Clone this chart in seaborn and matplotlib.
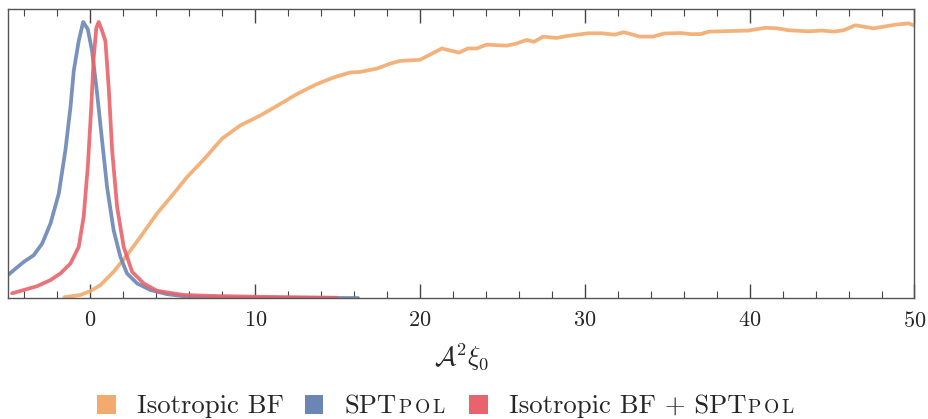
import numpy as np
import pandas as pd
import matplotlib
matplotlib.use("Agg")
import matplotlib.pyplot as plt
from matplotlib.patches import Rectangle
from matplotlib.ticker import MultipleLocator
import seaborn as sns

# ---- data (normalised posterior) ----
iso_x = [-1.58, -0.61, 0.0, 0.61, 1.41, 2.22, 3.03, 4.04, 5.05, 5.86, 6.87, 7.98, 9.09, 10.30,
         11.52, 12.53, 13.74, 14.75, 15.76, 16.36, 17.38, 18.18, 18.79, 20.0, 21.32, 22.36,
         22.91, 23.44, 24.04, 25.25, 25.86, 26.47, 26.91, 27.47, 28.28, 28.89, 30.2, 31.01,
         31.82, 32.36, 33.33, 34.14, 34.79, 35.8, 36.41, 37.01, 37.52, 39.94, 40.95, 41.65,
         42.36, 43.58, 44.38, 45.09, 45.70, 46.41, 47.52, 48.83, 49.64, 50.0]
iso_y = [0.003, 0.011, 0.025, 0.047, 0.095, 0.155, 0.221, 0.306, 0.378, 0.438, 0.501, 0.577,
         0.625, 0.661, 0.703, 0.739, 0.775, 0.799, 0.817, 0.819, 0.831, 0.849, 0.859, 0.863,
         0.904, 0.889, 0.904, 0.904, 0.918, 0.914, 0.922, 0.935, 0.928, 0.947, 0.942, 0.949,
         0.959, 0.959, 0.954, 0.963, 0.947, 0.947, 0.958, 0.960, 0.956, 0.956, 0.965, 0.969,
         0.979, 0.977, 0.970, 0.966, 0.969, 0.965, 0.970, 0.988, 0.977, 0.990, 0.995, 0.987]

spt_x = [-5.0, -4.65, -4.04, -3.44, -2.93, -2.42, -1.92, -1.52, -1.21, -1.01, -0.71, -0.44,
         -0.16, 0.10, 0.41, 0.71, 1.01, 1.41, 1.82, 2.22, 2.83, 3.64, 4.65, 5.86, 8.67, 16.24]
spt_y = [0.083, 0.101, 0.131, 0.155, 0.197, 0.270, 0.378, 0.534, 0.691, 0.823, 0.931, 1.0,
         0.974, 0.895, 0.739, 0.570, 0.402, 0.245, 0.149, 0.089, 0.053, 0.029, 0.014, 0.005,
         0.001, 0.0]

comb_x = [-4.75, -4.04, -3.23, -2.42, -1.82, -1.21, -0.71, -0.41, -0.16, 0.04, 0.2, 0.36,
          0.50, 0.71, 0.91, 1.11, 1.32, 1.62, 2.02, 2.53, 3.23, 4.04, 5.65, 7.68, 10.71, 14.95]
comb_y = [0.017, 0.029, 0.043, 0.065, 0.089, 0.125, 0.185, 0.294, 0.474, 0.679, 0.871, 0.979,
          1.0, 0.968, 0.931, 0.763, 0.534, 0.330, 0.185, 0.095, 0.053, 0.026, 0.011, 0.007,
          0.004, 0.001]

series = ["Isotropic BF", "SPTpol", "Isotropic BF + SPTpol"]
# legend text: main part + small-caps suffix
legend_main = ["Isotropic BF", "SPT", "Isotropic BF + SPT"]
legend_sc = ["", r"$\mathrm{P\,O\,L}$", r"$\mathrm{P\,O\,L}$"]
colors = ["#F2AA6E", "#6B86B5", "#E8636B"]

df = pd.concat([
    pd.DataFrame({"x": iso_x, "y": iso_y, "s": series[0]}),
    pd.DataFrame({"x": spt_x, "y": spt_y, "s": series[1]}),
    pd.DataFrame({"x": comb_x, "y": comb_y, "s": series[2]}),
], ignore_index=True)

sns.set_style("ticks")
plt.rcParams["font.family"] = ["cmr10", "DejaVu Serif"]
plt.rcParams["mathtext.fontset"] = "cm"
plt.rcParams["axes.formatter.use_mathtext"] = True
plt.rcParams["axes.unicode_minus"] = False

W, H = 929, 419
fig = plt.figure(figsize=(W / 100, H / 100), dpi=100)
ax = fig.add_axes([8 / W, 1 - 298 / H, (914.5 - 8) / W, (298 - 9) / H])

sns.lineplot(data=df, x="x", y="y", hue="s", palette=dict(zip(series, colors)),
             estimator=None, sort=True, linewidth=2.7, alpha=0.9, ax=ax, legend=False)
for ln in ax.get_lines():
    ln.set_solid_joinstyle("round")
    ln.set_solid_capstyle("round")

ax.set_xlim(-5, 50)
ax.set_ylim(0, 1.047)
ax.xaxis.set_major_locator(MultipleLocator(10))
ax.xaxis.set_minor_locator(MultipleLocator(2))
ax.set_yticks([])
ax.tick_params(axis="x", which="both", direction="in", top=True, bottom=True,
               color="#444444", labelsize=16, pad=9)
ax.tick_params(axis="x", which="major", length=10, width=1.0)
ax.tick_params(axis="x", which="minor", length=5, width=0.8)
for sp in ax.spines.values():
    sp.set_visible(True)
    sp.set_color("#555555")
    sp.set_linewidth(1.0)

ax.set_xlabel(r"$\mathcal{A}^2\xi_0$", fontsize=19, labelpad=8)
ax.set_ylabel("")

# ---- legend (square patches + text, small caps suffix) ----
sq_x = [97.3, 305.0, 469.3]
tx_x = [137.3, 345.0, 509.0]
sq = 18.4
base_y = (H - 413.3) / H
fig.canvas.draw()
renderer = fig.canvas.get_renderer()
for c, m, s, x0, t0 in zip(colors, legend_main, legend_sc, sq_x, tx_x):
    fig.patches.append(Rectangle((x0 / W, (H - 413.5) / H), sq / W, sq / H,
                                 transform=fig.transFigure, facecolor=c,
                                 edgecolor="none", figure=fig))
    t = fig.text(t0 / W, base_y, m, fontsize=19.2, va="baseline", ha="left")
    if s:
        bb = t.get_window_extent(renderer)
        fig.text((bb.x1 + 1.0) / W, base_y, s, fontsize=14, va="baseline", ha="left")

fig.savefig("out.png", dpi=100)
